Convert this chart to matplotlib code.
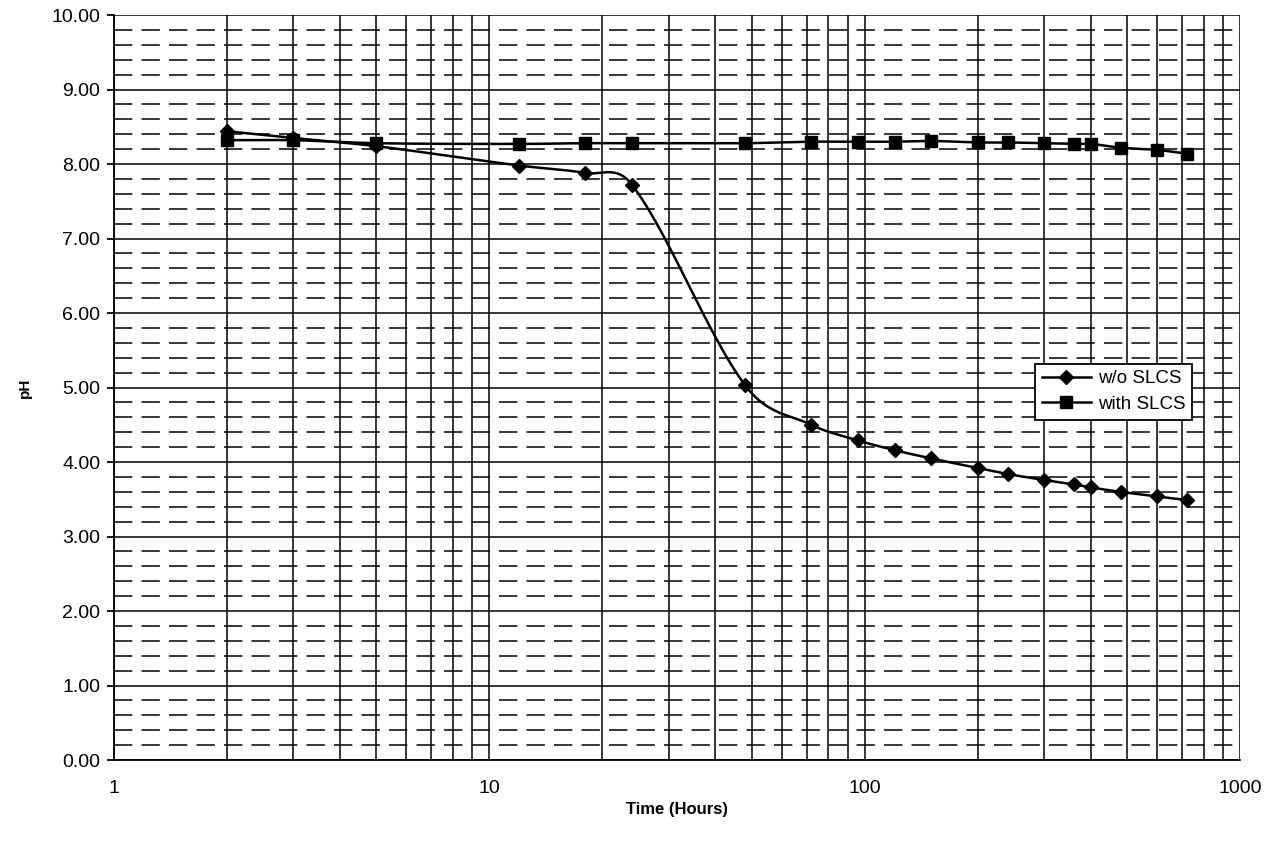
import numpy as np
import matplotlib
matplotlib.use("Agg")
from matplotlib import pyplot as plt
from matplotlib.ticker import FixedLocator, FixedFormatter, MultipleLocator, LogLocator, NullFormatter

plt.rcParams['font.family'] = ['Liberation Sans', 'DejaVu Sans']

# sampling times (hours)
hours = [2, 3, 5, 12, 18, 24, 48, 72, 96, 120, 150, 200, 240, 300, 360, 400, 480, 600, 720]

# pH readings
ph_without = [8.44, 8.35, 8.24, 7.98, 7.88, 7.72, 5.03, 4.50, 4.29, 4.16, 4.05,
              3.92, 3.84, 3.76, 3.70, 3.66, 3.60, 3.54, 3.49]
ph_with = [8.32, 8.32, 8.28, 8.27, 8.28, 8.28, 8.28, 8.30, 8.30, 8.30, 8.31,
           8.29, 8.29, 8.28, 8.27, 8.27, 8.22, 8.19, 8.14]

x_ticks = [1, 10, 100, 1000]
x_tick_labels = ["1", "10", "100", "1000"]


def smooth_curve(xs, ys, n=40):
    # hermite spline in log-x space, like the smoothed line of a spreadsheet chart
    lx = np.log10(xs)
    ys = np.asarray(ys, dtype=float)
    m = np.zeros_like(ys)
    m[1:-1] = (ys[2:] - ys[:-2]) / (lx[2:] - lx[:-2])
    m[0] = (ys[1] - ys[0]) / (lx[1] - lx[0])
    m[-1] = (ys[-1] - ys[-2]) / (lx[-1] - lx[-2])
    out_x, out_y = [], []
    for i in range(len(lx) - 1):
        h = lx[i + 1] - lx[i]
        t = np.linspace(0, 1, n)
        h00 = 2 * t**3 - 3 * t**2 + 1
        h10 = t**3 - 2 * t**2 + t
        h01 = -2 * t**3 + 3 * t**2
        h11 = t**3 - t**2
        out_x.append(lx[i] + t * h)
        out_y.append(h00 * ys[i] + h10 * h * m[i] + h01 * ys[i + 1] + h11 * h * m[i + 1])
    return 10 ** np.concatenate(out_x), np.concatenate(out_y)


fig = plt.figure(figsize=(12.73, 8.55), dpi=100)
ax = fig.add_axes([0.0896, 0.111, 0.8846, 0.8714])

sx, sy = smooth_curve(hours, ph_without)
ax.plot(sx, sy, color="black", lw=1.8, zorder=3)
ax.plot(hours, ph_without, "D", color="black", ms=7.5, zorder=4)
sx, sy = smooth_curve(hours, ph_with)
ax.plot(sx, sy, color="black", lw=1.8, zorder=3)
ax.plot(hours, ph_with, "s", color="black", ms=9, zorder=4)

# legend proxies
ax.plot([], [], "-D", color="black", ms=7.5, lw=1.8, label="w/o SLCS")
ax.plot([], [], "-s", color="black", ms=9, lw=1.8, label="with SLCS")

ax.set_xscale("log")
ax.set_xlim(1, 1000)
ax.set_ylim(0, 10)

ax.xaxis.set_major_locator(FixedLocator(x_ticks))
ax.xaxis.set_major_formatter(FixedFormatter(x_tick_labels))
ax.xaxis.set_minor_locator(LogLocator(base=10, subs=np.arange(2, 10)))
ax.xaxis.set_minor_formatter(NullFormatter())
ax.yaxis.set_major_locator(MultipleLocator(1))
ax.yaxis.set_minor_locator(MultipleLocator(0.2))
ax.yaxis.set_major_formatter(lambda v, p: f"{v:.2f}")

ax.grid(True, which="major", axis="both", color="black", lw=1.1, ls="-")
ax.grid(True, which="minor", axis="x", color="black", lw=1.1, ls="-")
ax.grid(True, which="minor", axis="y", color="black", lw=1.1, ls=(0, (12, 6)))

for s in ["top", "right"]:
    ax.spines[s].set_visible(False)
ax.spines["left"].set_linewidth(1.3)
ax.spines["bottom"].set_linewidth(1.3)

ax.tick_params(axis="y", which="major", length=5, width=1.3, labelsize=14, pad=5)
ax.tick_params(axis="y", which="minor", length=0)
ax.tick_params(axis="x", which="both", length=0, labelsize=14, pad=14)

ax.set_xlabel("Time (Hours)", fontsize=12, fontweight="bold", labelpad=4)
ax.set_ylabel("pH", fontsize=11, fontweight="bold", labelpad=14)

leg = ax.legend(loc="upper left", bbox_to_anchor=(0.818, 0.532), fontsize=13.5,
                frameon=True, fancybox=False, edgecolor="black", framealpha=1,
                handlelength=2.6, borderpad=0.35, labelspacing=0.45, handletextpad=0.4,
                borderaxespad=0)
leg.get_frame().set_linewidth(1.3)

fig.savefig("out.png", dpi=100)
